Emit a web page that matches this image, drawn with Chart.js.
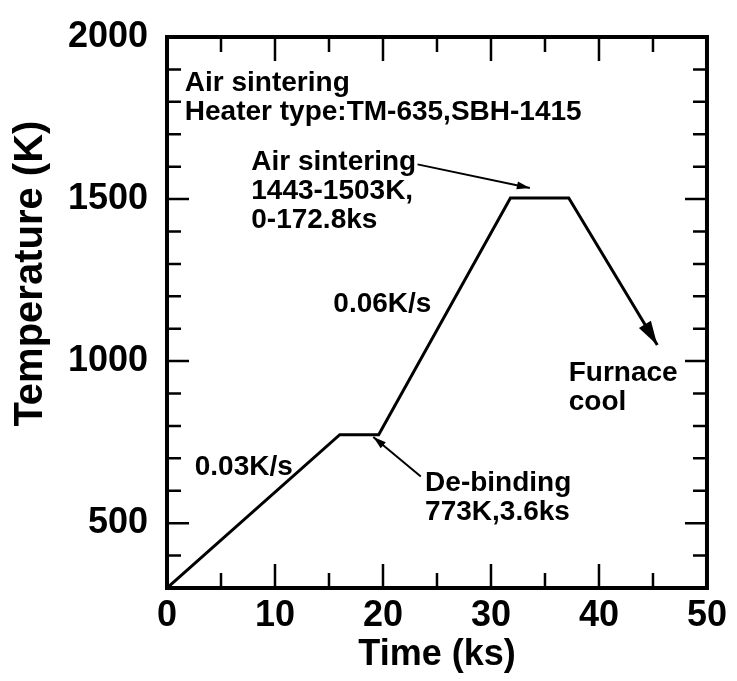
<!DOCTYPE html>
<html><head><meta charset="utf-8">
<script src="https://cdn.jsdelivr.net/npm/chart.js@4/dist/chart.umd.min.js"></script>
<style>html,body{margin:0;padding:0;background:#fff;} #wrap{width:737px;height:681px;}</style>
</head><body><div id="wrap"><canvas id="c" width="737" height="681"></canvas></div>
<script>
// ---- data ----
const timeKs = [0, 16, 19.6, 31.8, 37.2, 45.4];
const tempK  = [300, 773, 773, 1503, 1503, 1050];
const xTickLabels = [0, 10, 20, 30, 40, 50];
const yTickLabels = [500, 1000, 1500, 2000];
const xMinorTicks = [5, 15, 25, 35, 45];
const yMinorTicks = [400, 600, 700, 800, 900, 1100, 1200, 1300, 1400, 1600, 1700, 1800, 1900];

// ---- annotation layout (text anchored in data coordinates) ----
const notes = [
  {lines: ['Air sintering', 'Heater type:TM-635,SBH-1415'], x: 1.65, y: 1833},
  {lines: ['Air sintering', '1443-1503K,', '0-172.8ks'], x: 7.8, y: 1589},
  {lines: ['0.06K/s'], x: 15.4, y: 1152},
  {lines: ['0.03K/s'], x: 2.57, y: 650},
  {lines: ['De-binding', '773K,3.6ks'], x: 23.9, y: 599},
  {lines: ['Furnace', 'cool'], x: 37.2, y: 940}
];
const pointers = [
  {from: [23.2, 1607], to: [33.6, 1534]},
  {from: [23.5, 644], to: [19.1, 766]}
];

const FONT = '"Liberation Sans", Arial, Helvetica, sans-serif';

function arrowHead(ctx, x1, y1, x2, y2, len, half) {
  const a = Math.atan2(y2 - y1, x2 - x1);
  ctx.beginPath();
  ctx.moveTo(x2, y2);
  ctx.lineTo(x2 - len * Math.cos(a) + half * Math.sin(a), y2 - len * Math.sin(a) - half * Math.cos(a));
  ctx.lineTo(x2 - len * Math.cos(a) - half * Math.sin(a), y2 - len * Math.sin(a) + half * Math.cos(a));
  ctx.closePath();
  ctx.fill();
}

const decor = {
  id: 'decor',
  afterDatasetsDraw(chart) {
    const {ctx, chartArea: ca, scales: {x, y}} = chart;
    ctx.save();
    ctx.strokeStyle = '#000';
    ctx.fillStyle = '#000';
    // frame
    ctx.lineWidth = 4;
    ctx.strokeRect(ca.left, ca.top, ca.right - ca.left, ca.bottom - ca.top);
    // inward ticks
    ctx.lineWidth = 2.5;
    ctx.beginPath();
    const xt = (vals, len) => vals.forEach(v => {
      const px = x.getPixelForValue(v);
      ctx.moveTo(px, ca.bottom); ctx.lineTo(px, ca.bottom - len);
      ctx.moveTo(px, ca.top); ctx.lineTo(px, ca.top + len);
    });
    const yt = (vals, len) => vals.forEach(v => {
      const py = y.getPixelForValue(v);
      ctx.moveTo(ca.left, py); ctx.lineTo(ca.left + len, py);
      ctx.moveTo(ca.right, py); ctx.lineTo(ca.right - len, py);
    });
    xt(xTickLabels.slice(1, -1), 24); xt(xMinorTicks, 15);
    yt(yTickLabels.slice(0, -1), 22); yt(yMinorTicks, 14);
    ctx.stroke();
    // arrow head at end of the profile (furnace cool)
    const pts = chart.getDatasetMeta(0).data;
    const p1 = pts[pts.length - 2], p2 = pts[pts.length - 1];
    arrowHead(ctx, p1.x, p1.y, p2.x, p2.y, 24, 7);
    // pointer arrows
    ctx.lineWidth = 2;
    pointers.forEach(p => {
      const x1 = x.getPixelForValue(p.from[0]), y1 = y.getPixelForValue(p.from[1]);
      const x2 = x.getPixelForValue(p.to[0]), y2 = y.getPixelForValue(p.to[1]);
      ctx.beginPath(); ctx.moveTo(x1, y1); ctx.lineTo(x2, y2); ctx.stroke();
      arrowHead(ctx, x1, y1, x2, y2, 13, 4);
    });
    // texts
    ctx.font = 'bold 28px ' + FONT;
    ctx.textAlign = 'left';
    ctx.textBaseline = 'alphabetic';
    notes.forEach(n => {
      const px = x.getPixelForValue(n.x), py = y.getPixelForValue(n.y);
      n.lines.forEach((t, i) => ctx.fillText(t, px, py + i * 29));
    });
    ctx.restore();
  }
};

new Chart(document.getElementById('c'), {
  type: 'line',
  data: {
    datasets: [{
      data: timeKs.map((t, i) => ({x: t, y: tempK[i]})),
      borderColor: '#000', borderWidth: 3, pointRadius: 0, tension: 0, fill: false
    }]
  },
  options: {
    responsive: false, animation: false, devicePixelRatio: 1,
    layout: {padding: {left: 0, top: 30, right: 25, bottom: 0}},
    plugins: {legend: {display: false}, tooltip: {enabled: false}},
    scales: {
      x: {
        type: 'linear', min: 0, max: 50,
        grid: {display: false, drawTicks: false}, border: {display: false},
        afterBuildTicks: s => { s.ticks = xTickLabels.map(v => ({value: v})); },
        afterFit: s => { s.height = 93; },
        ticks: {padding: 10, color: '#000', maxRotation: 0, autoSkip: false,
          callback: v => String(v),
          font: {family: FONT, size: 36, weight: 'bold', lineHeight: 1}},
        title: {display: true, text: 'Time (ks)', color: '#000',
          font: {family: FONT, size: 36, weight: 'bold', lineHeight: 1}, padding: {top: 0, bottom: 8}}
      },
      y: {
        type: 'linear', min: 300, max: 2000,
        grid: {display: false, drawTicks: false}, border: {display: false},
        afterBuildTicks: s => { s.ticks = yTickLabels.map(v => ({value: v})); },
        afterFit: s => { s.width = 167; },
        ticks: {padding: 19, color: '#000', autoSkip: false,
          callback: v => String(v),
          font: {family: FONT, size: 36, weight: 'bold', lineHeight: 1}},
        title: {display: true, text: '       Temperature (K)', color: '#000',
          font: {family: FONT, size: 40, weight: 'bold', lineHeight: 1}, padding: {top: 11, bottom: 0}}
      }
    }
  },
  plugins: [decor]
});
</script>
</body></html>
